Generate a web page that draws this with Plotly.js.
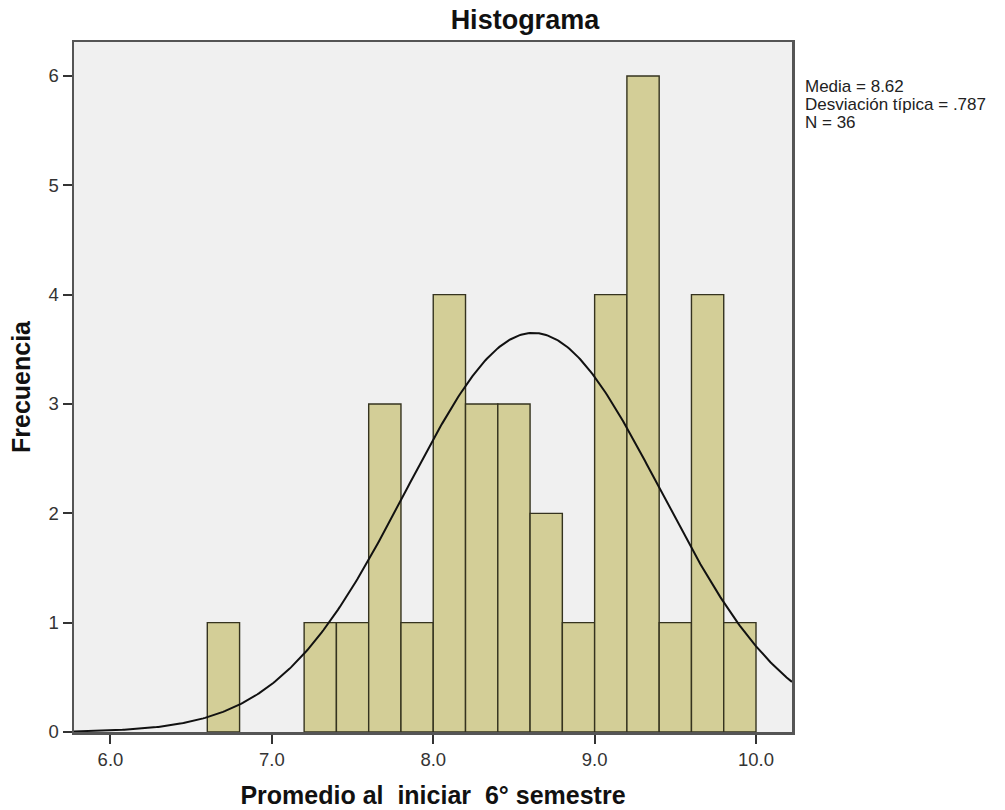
<!DOCTYPE html>
<html>
<head>
<meta charset="utf-8">
<script src="https://cdn.plot.ly/plotly-3.0.1.min.js"></script>
<style>
  html, body { margin: 0; padding: 0; background: #ffffff; }
  #chart { width: 1005px; height: 810px; }
</style>
</head>
<body>
<div id="chart"></div>
<script>
// Histogram of grade averages at the start of 6th semester
const binCenters = [6.7, 7.3, 7.5, 7.7, 7.9, 8.1, 8.3, 8.5, 8.7, 8.9, 9.1, 9.3, 9.5, 9.7, 9.9];
const counts     = [1,   1,   1,   3,   1,   4,   3,   3,   2,   1,   4,   6,   1,   4,   1];
const binWidth = 0.2;

// Summary statistics shown beside the plot
const media = 8.62;
const desviacion = 0.787;
const n = 36;
const statsLines = ["Media = 8.62", "Desviación típica = .787", "N = 36"];

const xTicks = [6, 7, 8, 9, 10];
const xTickText = ["6.0", "7.0", "8.0", "9.0", "10.0"];
const yTicks = [0, 1, 2, 3, 4, 5, 6];

const xRange = [5.774, 10.223];
const yRange = [0, 6.311];

// Fitted normal curve scaled to the frequency axis
const curveX = [];
const curveY = [];
const steps = 400;
for (let i = 0; i <= steps; i++) {
  const x = xRange[0] + (xRange[1] - xRange[0]) * i / steps;
  const z = (x - media) / desviacion;
  curveX.push(x);
  curveY.push(n * binWidth * Math.exp(-0.5 * z * z) / (desviacion * Math.sqrt(2 * Math.PI)));
}

const FONT = "Liberation Sans, Arial, sans-serif";

const traces = [
  {
    type: "bar",
    x: binCenters,
    y: counts,
    width: binWidth,
    marker: { color: "#D3CE97", line: { color: "#35331f", width: 1.4 } },
    hoverinfo: "x+y"
  },
  {
    type: "scatter",
    mode: "lines",
    x: curveX,
    y: curveY,
    line: { color: "#111111", width: 2 },
    hoverinfo: "skip"
  }
];

const statsY = [0.936, 0.910, 0.884];
const annotations = statsLines.map((t, i) => ({
  text: t,
  xref: "paper", yref: "paper",
  x: 1.0167, y: statsY[i],
  xanchor: "left", yanchor: "middle",
  showarrow: false,
  borderpad: 0,
  font: { family: FONT, size: 17, color: "#222222" }
}));

const layout = {
  width: 1005,
  height: 810,
  margin: { l: 73.5, r: 213, t: 42, b: 78 },
  paper_bgcolor: "#ffffff",
  plot_bgcolor: "#F0F0F0",
  showlegend: false,
  bargap: 0,
  title: {
    text: "<b>Histograma</b>",
    font: { family: FONT, size: 27, color: "#111111" },
    xref: "paper", x: 0.628, xanchor: "center",
    yref: "container", y: 0.976, yanchor: "middle"
  },
  xaxis: {
    range: xRange,
    tickvals: xTicks,
    ticktext: xTickText,
    ticks: "outside",
    ticklen: 9,
    tickwidth: 2,
    tickcolor: "#333333",
    showgrid: false,
    zeroline: false,
    showline: true,
    linecolor: "#555555",
    linewidth: 2.5,
    mirror: true,
    tickfont: { family: FONT, size: 18.5, color: "#333333" },
    title: {
      text: "<b>Promedio al  iniciar  6° semestre</b>",
      font: { family: FONT, size: 25, color: "#111111" },
      standoff: 18
    }
  },
  yaxis: {
    range: yRange,
    tickvals: yTicks,
    ticks: "outside",
    ticklen: 9,
    tickwidth: 2,
    tickcolor: "#333333",
    showgrid: false,
    zeroline: false,
    showline: true,
    linecolor: "#555555",
    linewidth: 2.5,
    mirror: true,
    tickfont: { family: FONT, size: 18.5, color: "#333333" },
    title: {
      text: "<b>Frecuencia</b>",
      font: { family: FONT, size: 25, color: "#111111" },
      standoff: 11
    }
  },
  annotations: annotations
};

Plotly.newPlot("chart", traces, layout, { displayModeBar: false, staticPlot: true });
</script>
</body>
</html>
